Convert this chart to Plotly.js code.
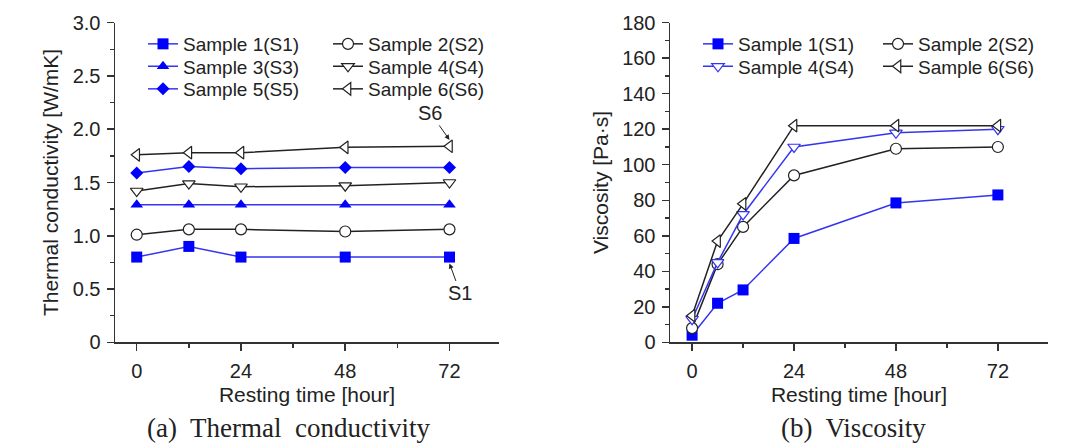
<!DOCTYPE html>
<html>
<head>
<meta charset="utf-8">
<script src="https://cdn.plot.ly/plotly-3.0.1.min.js"></script>
<style>
  html, body { margin: 0; padding: 0; background: #fff; }
  #chart { width: 1074px; height: 444px; }
</style>
</head>
<body>
<div id="chart"></div>
<script>
// Resting times in hours
const hoursTC = [0, 12, 24, 48, 72];
const hoursVisc = [0, 6, 12, 24, 48, 72];
const xTickVals = [0, 24, 48, 72];

// Thermal conductivity [W/mK]
const tcS1 = [0.80, 0.90, 0.80, 0.80, 0.80];
const tcS2 = [1.01, 1.06, 1.06, 1.04, 1.06];
const tcS3 = [1.29, 1.29, 1.29, 1.29, 1.29];
const tcS4 = [1.42, 1.49, 1.46, 1.47, 1.50];
const tcS5 = [1.59, 1.65, 1.63, 1.64, 1.64];
const tcS6 = [1.76, 1.78, 1.78, 1.83, 1.84];
const tcTickVals = [0, 0.5, 1.0, 1.5, 2.0, 2.5, 3.0];
const tcTickText = ['0', '0.5', '1.0', '1.5', '2.0', '2.5', '3.0'];

// Viscosity [Pa·s]
const viS1 = [4, 22, 29.5, 58.5, 78.5, 83];
const viS2 = [8, 44, 65, 94, 109, 110];
const viS4 = [13, 45, 72, 110, 118, 120];
const viS6 = [15, 57, 78, 122, 122, 122];

// Series names
const names = {
  s1: 'Sample 1(S1)', s2: 'Sample 2(S2)', s3: 'Sample 3(S3)',
  s4: 'Sample 4(S4)', s5: 'Sample 5(S5)', s6: 'Sample 6(S6)'
};

const BLUE = '#0000ff';
const BLUE_LINE = '#3535f0';
const DARK = '#222222';
const AXIS = '#333333';
const SANS = 'Liberation Sans, Arial, sans-serif';
const SERIF = 'Liberation Serif, Times New Roman, serif';

// Filled markers are solid; hollow markers get a white face and a coloured rim
function series(x, y, name, xa, ya, lg, lineColor, symbol, size, markerColor, filled) {
  return {
    type: 'scatter', mode: 'lines+markers', x: x, y: y, name: name,
    xaxis: xa, yaxis: ya, legend: lg,
    line: { color: lineColor, width: 1.5 },
    marker: {
      symbol: symbol, size: size,
      color: filled ? markerColor : '#ffffff',
      line: { color: markerColor, width: filled ? 0 : 1.2 }
    },
    cliponaxis: false
  };
}

const traces = [
  // Thermal conductivity panel
  series(hoursTC, tcS1, names.s1, 'x', 'y', 'legend', BLUE_LINE, 'square', 11, BLUE, true),
  series(hoursTC, tcS2, names.s2, 'x', 'y', 'legend2', DARK, 'circle', 11, DARK, false),
  series(hoursTC, tcS3, names.s3, 'x', 'y', 'legend3', BLUE_LINE, 'triangle-up', 11, BLUE, true),
  series(hoursTC, tcS4, names.s4, 'x', 'y', 'legend4', DARK, 'triangle-down', 11, DARK, false),
  series(hoursTC, tcS5, names.s5, 'x', 'y', 'legend5', BLUE_LINE, 'diamond', 10, BLUE, true),
  series(hoursTC, tcS6, names.s6, 'x', 'y', 'legend6', DARK, 'triangle-left', 11, DARK, false),
  // Viscosity panel
  series(hoursVisc, viS1, names.s1, 'x2', 'y2', 'legend7', BLUE_LINE, 'square', 11, BLUE, true),
  series(hoursVisc, viS2, names.s2, 'x2', 'y2', 'legend8', DARK, 'circle', 11, DARK, false),
  series(hoursVisc, viS4, names.s4, 'x2', 'y2', 'legend9', BLUE_LINE, 'triangle-down', 11, BLUE_LINE, false),
  series(hoursVisc, viS6, names.s6, 'x2', 'y2', 'legend10', DARK, 'triangle-left', 11, DARK, false)
];

const W = 1074, H = 444;
const px = v => v / W;
const py = v => (H - v) / H;

const leftDom = [px(115), px(499)];
const rightDom = [px(670), px(1048)];
const yDom = [py(342.3), py(22.7)];

const tickFont = { family: SANS, size: 20, color: DARK };
const titleFont = { family: SANS, size: 21, color: DARK };

function xAxis(domain, range, anchor) {
  return {
    domain: domain, range: range, anchor: anchor,
    tickvals: xTickVals, ticks: 'outside', ticklen: 7, tickwidth: 1.5, tickcolor: AXIS,
    minor: { dtick: 12, tick0: 0, ticks: 'outside', ticklen: 4, tickwidth: 1.5, tickcolor: AXIS },
    showline: true, linecolor: AXIS, linewidth: 1.5,
    showgrid: false, zeroline: false,
    tickfont: tickFont, ticklabelstandoff: 3,
    title: { text: 'Resting time [hour]', font: titleFont, standoff: 6 }
  };
}
function yAxis(domain, range, anchor, dtick, minorStep, title) {
  return {
    domain: domain, range: range, anchor: anchor,
    dtick: dtick, tick0: 0, ticks: 'outside', ticklen: 7, tickwidth: 1.5, tickcolor: AXIS,
    minor: { dtick: minorStep, tick0: 0, ticks: 'outside', ticklen: 4, tickwidth: 1.5, tickcolor: AXIS },
    showline: true, linecolor: AXIS, linewidth: 1.5,
    showgrid: false, zeroline: false,
    tickfont: tickFont, ticklabelstandoff: 2,
    title: { text: title, font: titleFont, standoff: 8 }
  };
}
// Frame edges on top and right with inward ticks
function topAxis(over, anchor, range) {
  return {
    overlaying: over, anchor: anchor, side: 'top', range: range,
    tickvals: xTickVals, ticks: 'inside', ticklen: 6, tickwidth: 1.5, tickcolor: AXIS,
    minor: { dtick: 12, tick0: 0, ticks: 'inside', ticklen: 4, tickwidth: 1.5, tickcolor: AXIS },
    showline: true, linecolor: AXIS, linewidth: 1.5,
    showticklabels: false, showgrid: false, zeroline: false
  };
}
function rightAxis(over, anchor, range, dtick, minorStep) {
  return {
    overlaying: over, anchor: anchor, side: 'right', range: range,
    dtick: dtick, tick0: 0, ticks: 'inside', ticklen: 6, tickwidth: 1.5, tickcolor: AXIS,
    minor: { dtick: minorStep, tick0: 0, ticks: 'inside', ticklen: 4, tickwidth: 1.5, tickcolor: AXIS },
    showline: true, linecolor: AXIS, linewidth: 1.5,
    showticklabels: false, showgrid: false, zeroline: false
  };
}

const xRangeL = [-5, 83.4];
const xRangeR = [-5.2, 83.8];
const yRangeL = [0, 3];
const yRangeR = [0, 180];

// One legend box per entry so the two-column grid keeps a tight row pitch
function legendAt(xPix, rowCenter) {
  return {
    x: px(xPix), y: py(rowCenter - 18), xanchor: 'left', yanchor: 'top',
    orientation: 'v', bgcolor: 'rgba(0,0,0,0)', borderwidth: 0,
    font: { family: SANS, size: 19, color: DARK }, tracegroupgap: 0, itemwidth: 30
  };
}
const rowsY = [43, 65.5, 88];

const yAxisL = yAxis(yDom, yRangeL, 'x', 0.5, 0.25, 'Thermal conductivity [W/mK]');
yAxisL.tickvals = tcTickVals;
yAxisL.ticktext = tcTickText;
delete yAxisL.dtick;

const layout = {
  width: W, height: H,
  margin: { l: 0, r: 0, t: 0, b: 0 },
  paper_bgcolor: '#ffffff', plot_bgcolor: '#ffffff',
  showlegend: true,
  xaxis: xAxis(leftDom, xRangeL, 'y'),
  yaxis: yAxisL,
  xaxis2: xAxis(rightDom, xRangeR, 'y2'),
  yaxis2: yAxis(yDom, yRangeR, 'x2', 20, 10, 'Viscosity [Pa·s]'),
  xaxis3: topAxis('x', 'y', xRangeL),
  yaxis3: rightAxis('y', 'x', yRangeL, 0.5, 0.25),
  xaxis4: topAxis('x2', 'y2', xRangeR),
  yaxis4: rightAxis('y2', 'x2', yRangeR, 20, 10),
  legend: legendAt(143, rowsY[0]),
  legend2: legendAt(328, rowsY[0]),
  legend3: legendAt(143, rowsY[1]),
  legend4: legendAt(328, rowsY[1]),
  legend5: legendAt(143, rowsY[2]),
  legend6: legendAt(328, rowsY[2]),
  legend7: legendAt(698, rowsY[0]),
  legend8: legendAt(878, rowsY[0]),
  legend9: legendAt(698, rowsY[1]),
  legend10: legendAt(878, rowsY[1]),
  annotations: [
    { xref: 'x', yref: 'y', x: 72, y: 1.90, text: 'S6', showarrow: true,
      arrowhead: 2, arrowsize: 1, arrowwidth: 1, arrowcolor: DARK,
      ax: -19, ay: -27, font: { family: SANS, size: 20, color: DARK } },
    { xref: 'x', yref: 'y', x: 72, y: 0.74, text: 'S1', showarrow: true,
      arrowhead: 2, arrowsize: 1, arrowwidth: 1, arrowcolor: DARK,
      ax: 11, ay: 30, font: { family: SANS, size: 20, color: DARK } },
    { xref: 'paper', yref: 'paper', x: px(288.5), y: py(428), xanchor: 'center', yanchor: 'middle',
      text: '(a)\u00a0 Thermal\u00a0 conductivity', showarrow: false,
      font: { family: SERIF, size: 27, color: DARK } },
    { xref: 'paper', yref: 'paper', x: px(853), y: py(428), xanchor: 'center', yanchor: 'middle',
      text: '(b)\u00a0 Viscosity', showarrow: false,
      font: { family: SERIF, size: 27, color: DARK } }
  ]
};

Plotly.newPlot('chart', traces, layout, { staticPlot: true, displayModeBar: false });
</script>
</body>
</html>
